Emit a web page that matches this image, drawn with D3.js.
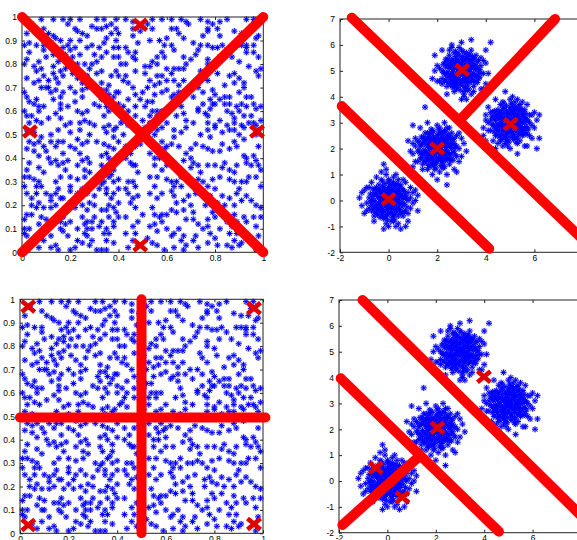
<!DOCTYPE html>
<html><head><meta charset="utf-8">
<script src="https://cdn.jsdelivr.net/npm/d3@7"></script>
<style>
body{margin:0;background:#fff}
svg{display:block}
text{font-family:"Liberation Sans",Arial,Helvetica,sans-serif;font-size:8.5px;fill:#000}
</style>
</head><body>
<script>
// ---- Uniform data (left panels), values in percent of the unit square ----
const uniformPts = "8,99 13,99 17,99 20,99 24,99 31,99 34,99 39,99 43,99 46,98 29,96 31,95 33,95 35,96 39,95 40,93 9,95 22,95 25,93 46,95 2,93 13,92 14,91 16,90 20,90 24,90 27,92 35,91 39,90 46,92 6,88 1,88 9,88 17,87 20,86 22,87 27,87 29,88 32,87 38,87 40,87 43,87 3,85 13,84 18,84 24,84 30,84 35,85 44,85 47,85 2,82 7,81 10,83 16,83 18,82 20,80 23,80 26,80 31,81 38,83 40,83 43,80 47,82 5,79 13,79 18,78 28,78 33,77 6,77 9,75 13,76 14,74 17,75 21,76 31,76 37,75 40,75 43,75 47,77 2,74 5,72 11,73 25,72 36,71 44,72 1,68 8,70 10,70 11,70 12,68 20,70 22,68 25,69 32,67 33,69 36,67 39,68 40,68 46,70 47,67 16,66 6,65 17,68 3,64 5,63 7,62 16,63 22,64 33,65 35,62 37,64 40,63 44,65 47,62 1,60 7,60 16,61 23,60 32,62 36,60 40,60 44,60 27,60 2,58 3,55 8,55 11,57 16,57 20,55 24,55 28,55 30,54 34,53 36,54 41,55 42,56 44,54 47,58 5,51 12,50 20,51 28,50 35,51 42,50 " +
"54,99 58,99 62,99 68,98 74,99 77,98 82,98 85,99 93,99 96,99 54,95 62,95 64,95 69,97 77,95 77,94 81,95 82,92 88,94 91,93 97,91 98,92 53,90 57,90 60,91 67,91 71,89 74,88 77,88 79,87 81,87 83,88 89,88 91,88 93,87 93,88 62,88 63,86 93,85 96,85 56,83 59,83 67,83 70,82 77,82 82,83 87,83 51,79 53,79 56,80 63,78 65,78 67,78 77,80 94,79 97,77 98,75 60,78 58,75 56,75 53,73 57,72 60,73 63,73 75,75 81,76 86,75 90,74 88,72 84,71 65,71 70,70 73,70 52,70 79,69 80,67 55,67 58,68 60,69 62,66 63,67 68,68 71,66 82,65 84,66 86,66 90,68 95,66 96,63 97,61 52,64 54,64 75,63 73,61 79,63 80,63 84,63 86,63 91,63 93,62 54,60 56,60 56,58 58,60 64,58 73,60 77,58 85,60 87,59 90,60 92,58 95,58 53,55 60,55 71,55 77,55 82,56 85,54 88,55 91,54 92,53 94,55 96,55 97,54 98,52 56,52 63,52 77,52 86,52 88,52 55,50 66,51 74,50 83,51 90,50 97,50 " +
"3,47 7,47 9,45 12,47 14,45 17,47 20,45 22,44 27,47 31,47 36,45 38,44 40,47 43,45 47,45 2,44 5,43 10,43 11,40 12,38 14,39 17,38 19,39 23,37 25,39 27,40 33,41 33,37 36,40 40,41 43,40 46,37 47,37 2,35 7,36 28,34 34,35 38,35 1,32 3,32 7,30 16,32 20,32 26,32 31,30 33,29 36,32 38,30 40,31 44,30 47,28 1,28 8,28 20,28 32,27 2,25 6,25 10,25 12,24 14,25 17,23 20,26 23,25 27,25 35,25 38,25 40,27 44,25 46,23 4,20 7,21 9,19 12,19 14,20 16,23 20,21 22,19 25,20 27,18 30,20 33,18 35,18 38,19 40,21 47,19 2,16 4,16 8,15 14,13 16,13 20,13 25,15 27,13 29,13 33,13 36,15 38,13 40,15 43,15 1,10 3,10 9,10 10,10 16,10 17,9 23,10 27,10 29,10 32,11 35,10 36,8 46,11 47,8 9,5 12,2 15,1 20,1 23,5 25,4 28,3 31,1 33,1 35,1 44,2 48,3 1,8 5,4 27,7 29,5 35,5 " +
"53,47 56,45 58,47 60,45 62,46 65,45 70,44 75,45 77,44 79,43 83,46 86,44 89,45 92,41 93,40 53,42 55,40 57,40 60,41 60,37 63,37 67,39 70,40 71,38 73,37 77,37 80,37 83,36 86,35 89,37 93,38 95,37 98,37 53,32 56,32 60,31 62,30 63,28 66,32 69,30 71,30 75,30 77,28 79,31 82,32 86,31 88,30 91,30 94,32 97,32 53,25 58,25 62,26 63,24 69,24 72,25 76,23 79,22 81,21 83,24 86,23 88,20 91,22 93,24 95,22 97,20 55,16 57,15 60,16 62,18 64,17 67,18 70,20 71,17 71,14 73,12 77,14 80,15 83,17 85,13 89,13 92,15 93,13 96,15 53,11 56,9 58,13 60,10 63,8 67,7 66,5 68,3 71,5 75,10 78,8 82,10 86,8 88,5 91,4 56,3 59,1 67,1 73,2 81,3 85,3 90,3 " +
"4,97 19,97 37,97 52,97 66,99 79,97 95,96 11,93 23,94 37,93 49,94 65,93 75,92 94,93 3,89 19,88 34,89 48,89 59,88 73,86 96,88 9,86 21,83 33,83 46,83 58,85 72,84 85,86 98,83 1,80 15,81 29,80 41,80 54,81 68,80 80,79 90,81 8,78 16,77 27,75 39,77 51,76 62,76 74,77 88,76 99,78 7,73 15,72 23,74 33,72 42,73 55,71 67,73 77,73 92,72 14,69 27,70 35,69 50,68 65,68 75,68 92,70 2,66 13,65 25,66 38,66 49,65 65,65 78,65 93,66 9,62 19,62 30,63 42,62 51,62 66,62 78,61 89,62 99,62 4,58 14,59 25,59 34,58 43,58 53,58 67,59 76,59 88,57 6,56 18,54 26,56 39,53 50,56 58,53 68,56 80,54 99,56 2,52 15,52 24,52 38,52 51,53 68,53 80,53 " +
"8,49 23,48 38,49 52,49 63,49 78,49 92,48 5,46 15,47 25,46 34,46 49,46 59,44 72,46 88,47 98,45 7,41 17,42 24,42 35,42 45,42 57,43 68,42 82,43 96,41 3,38 15,37 28,38 38,38 45,38 55,37 70,36 84,38 97,39 9,34 18,35 26,35 37,33 48,34 58,35 74,34 88,34 99,35 5,31 14,30 23,31 34,30 46,30 64,30 73,31 93,30 6,28 15,27 25,27 35,27 43,27 55,28 66,28 80,27 90,27 99,28 4,23 12,22 22,23 30,24 37,23 48,24 56,23 67,22 78,24 89,25 6,19 18,19 28,21 36,20 45,21 54,19 64,21 76,20 84,20 99,19 1,14 10,14 17,15 30,15 39,17 50,16 58,16 68,14 79,17 88,16 99,15 7,12 18,12 26,12 38,11 48,13 55,12 65,10 77,11 87,11 97,11 2,7 12,7 19,7 26,8 34,8 43,8 52,6 62,7 72,7 80,6 89,8 98,7 7,2 14,3 22,2 38,4 46,5 54,4 63,2 77,4 87,2 97,1";

// ---- Cluster data (right panels): centres and point offsets in tenths ----
const clusterCenters = [[0,0],[2,2],[3,5],[5,3]];
const clusterOffsets = [
"0,0 1,1 -1,2 2,-1 -2,-1 3,2 -3,1 1,-3 -1,-2 4,0 -4,-1 2,4 -2,3 0,5 0,-5 5,2 -5,2 3,-4 -3,-4 6,-1 -6,0 1,6 -1,-6 4,4 -4,4 4,-3 -4,-3 7,1 -7,-2 2,7 -2,-7 5,-5 -5,5 6,4 -6,3 3,6 -3,-6 8,0 -8,1 0,8 1,-8 7,-4 -7,-4 5,6 -5,-5 8,3 -8,-3 4,8 -3,8 6,-6 -6,-6 9,1 -9,-1 2,9 -1,-9 10,3 -10,4 -12,1 -2,14 -1,10 5,-11 0,-10 8,-8 -11,-2 3,10 9,-3 -9,5 7,7 -7,7 11,0 1,2 2,1 -2,0 -1,-1 0,3 3,0 -3,-2 2,-2 1,4 -1,4 4,2 -4,1 3,-1 -3,-1 0,-3 2,3 -2,5 5,-1 -5,-2 1,-5 -1,3 3,3 -3,3 6,1 -6,-3 2,-6 -2,-4 4,-6 -4,6 7,2 -7,0 0,7 2,-8 -8,5 8,-5 9,5 -9,-4 6,8 -5,9 4,-9 -6,-8 10,-1 -10,-5 11,4 -11,3 3,-10 -3,11 12,2 -1,12 7,-10 -2,-11 12,-4",
"0,0 -1,1 1,2 2,-1 -2,-2 3,1 -3,0 1,-3 -1,3 4,-1 -4,1 2,4 -2,-4 0,-5 0,5 5,1 -5,-1 3,-4 -3,4 6,0 -6,2 1,6 -1,-6 4,4 -4,-4 4,-4 -4,4 7,-1 -7,1 2,-7 -2,7 5,5 -5,-5 6,-4 -6,4 3,7 -3,-7 8,1 -8,-1 1,8 -1,-8 7,4 -7,-4 5,-6 -5,6 8,-3 -8,3 4,8 -4,-8 6,6 -6,-6 9,0 -9,1 0,9 1,-9 -5,16 4,-14 -10,2 -10,9 9,6 -10,-7 10,-3 -9,-5 3,10 -2,-10 7,-8 -7,8 11,2 -11,-1 2,1 1,-1 -1,-2 -2,1 0,2 3,-2 -3,2 2,3 -2,3 1,-4 -1,4 4,2 -4,-2 5,-2 -5,3 2,-5 -3,-3 3,3 6,2 -6,-2 2,6 -2,-6 5,-4 -4,6 7,2 -7,-2 3,-7 -3,6 8,5 -8,-5 5,8 -6,-8 9,-5 -9,4 10,4 -10,-2 4,-10 -4,10 12,-1 0,-12 -12,3 8,-9",
"0,0 1,-1 -1,1 2,2 -2,-1 3,-1 -3,1 -1,3 1,-3 4,1 -4,-1 2,-4 -2,4 0,5 0,-5 5,-1 -5,1 3,4 -3,-4 6,1 -6,-1 -1,6 1,-6 4,-4 -4,4 4,4 -4,-4 7,0 -7,-1 -2,7 2,-7 5,5 -5,-5 6,-4 -6,4 3,-7 -3,7 8,-1 -8,0 0,8 1,-8 7,4 -7,-4 5,-6 -5,6 8,2 -8,-3 4,8 -3,-8 6,6 -6,-6 9,-1 -9,1 -1,9 1,-9 4,12 12,11 -11,6 1,-10 0,-11 -10,-4 10,-5 -4,10 8,-7 -8,8 10,3 -10,2 2,-2 -2,2 1,1 -1,-1 0,3 3,0 -3,-2 2,-3 -2,-3 3,2 -3,3 1,4 -1,-4 4,-2 -4,2 5,2 -5,-2 2,5 -2,-5 6,-2 -6,2 3,6 -3,-6 7,-3 -7,3 2,7 -2,-7 8,5 -8,-5 5,-8 -5,8 9,4 -9,-4 4,-9 -4,9 11,-1 -11,0 0,11 2,-11 -6,-9 9,-7 10,8 -12,-3",
"0,0 -1,-1 1,1 2,-2 -2,1 3,0 -3,-1 0,3 0,-3 4,1 -4,0 1,4 -1,-4 5,-2 -5,2 2,5 -2,-5 4,-4 -4,4 5,3 -5,-3 6,0 -6,1 0,6 1,-6 4,5 -4,-5 6,-3 -6,3 7,1 -7,-1 1,7 -1,-7 5,-5 -5,5 6,5 -6,-5 8,0 -8,1 2,8 -2,-8 7,-4 -7,4 4,7 -4,-7 8,3 -8,-3 3,-8 -3,8 7,7 -7,-7 9,-1 -9,0 0,9 -1,-9 12,-6 11,-10 -10,3 3,-12 -2,12 -11,-2 -10,-7 10,4 9,-6 -6,9 6,-9 11,1 -9,6 2,2 -2,-2 1,-1 -1,2 3,-2 -3,2 2,3 -2,-3 4,-1 -4,2 1,-4 -1,4 3,3 -3,-3 5,0 -5,-1 0,5 1,-5 5,-3 -5,3 3,-6 -3,6 6,2 -6,-2 2,6 -2,-6 7,-2 -7,2 4,-7 -4,7 8,-5 -8,4 5,8 -5,-8 9,3 -9,-3 3,9 -3,-9 10,-2 -10,1 1,10 0,-10 12,3 -11,-5 7,-9 -6,-10"
];
// dense inner core shared by every cluster (offsets in tenths)
const clusterCore = "0.5,0.5 -0.5,0.5 0.5,-0.5 -0.5,-0.5 1.5,0.5 -1.5,0.5 1.5,-0.5 -1.5,-0.5 0.5,1.5 -0.5,1.5 0.5,-1.5 -0.5,-1.5 2.5,1.5 -2.5,1.5 2.5,-1.5 -2.5,-1.5 1.5,2.5 -1.5,2.5 1.5,-2.5 -1.5,-2.5 3.5,0.5 -3.5,0.5 3.5,-0.5 -3.5,-0.5 0.5,3.5 -0.5,3.5 0.5,-3.5 -0.5,-3.5 2.5,3.5 -2.5,3.5 2.5,-3.5 -2.5,-3.5 3.5,2.5 -3.5,2.5 3.5,-2.5 -3.5,-2.5 4.5,1.5 -4.5,1.5 4.5,-1.5 -4.5,-1.5 1.5,4.5 -1.5,4.5 1.5,-4.5 -1.5,-4.5 5.5,0.5 -5.5,-0.5 0.5,5.5 -0.5,-5.5 4.5,3.5 -4.5,3.5 4.5,-3.5 -4.5,-3.5 3.5,4.5 -3.5,4.5 3.5,-4.5 -3.5,-4.5 5.5,2.5 -5.5,2.5 5.5,-2.5 -5.5,-2.5 2.5,5.5 -2.5,5.5 2.5,-5.5 -2.5,-5.5 6.5,1.5 -6.5,-1.5 1.5,6.5 -1.5,-6.5 6.5,-1.5 -6.5,1.5 -1.5,6.5 1.5,-6.5 5.5,4.5 -5.5,-4.5 4.5,5.5 -4.5,-5.5 5.5,-4.5 -5.5,4.5 7.5,0.5 -7.5,-0.5 0.5,7.5 -0.5,-7.5 6.5,3.5 -6.5,-3.5 3.5,6.5 -3.5,-6.5 7.5,-2.5 -7.5,2.5 2.5,-7.5 -2.5,7.5 6.5,-4.5 -6.5,4.5";

// ---- Ticks ----
const leftXTicks = [0, 0.2, 0.4, 0.6, 0.8, 1];
const leftYTicks = [0, 0.1, 0.2, 0.3, 0.4, 0.5, 0.6, 0.7, 0.8, 0.9, 1];
const rightXTicks = [-2, 0, 2, 4, 6];
const rightYTicks = [-2, -1, 0, 1, 2, 3, 4, 5, 6, 7];

// ---- Red boundary lines and centroid markers ----
const linesTL = [[[0,0],[1,1]], [[0,1],[1,0]]];
const centroidsTL = [[0.49,0.967],[0.033,0.513],[0.974,0.513],[0.49,0.03]];
const linesBL = [[[0.5,0],[0.5,1]], [[0,0.495],[1.01,0.495]]];
const centroidsBL = [[0.034,0.969],[0.963,0.962],[0.034,0.035],[0.963,0.04]];
const linesTR = [[[-1.52,7.05],[8.6,-2.05]], [[2.93,3.1],[6.85,7.0]], [[-1.93,3.64],[4.14,-1.86]]];
const centroidsTR = [[0,0.05],[2,2],[3.03,5.03],[5.02,2.94]];
const linesBR = [[[-1.03,7],[8.5,-1.8]], [[-1.93,3.97],[4.61,-1.96]], [[-1.86,-1.7],[1.31,0.95]]];
const centroidsBR = [[-0.48,0.51],[0.62,-0.63],[2.07,2.06],[3.99,4.03]];

// ---- parse data ----
const uniform = uniformPts.trim().split(/\s+/).map(s => s.split(",").map(v => +v / 100));
const clusters = [];
const coreOffsets = clusterCore.trim().split(/\s+/).map(s => s.split(",").map(Number));
clusterOffsets.forEach((str, i) => {
  const c = clusterCenters[i];
  const offs = str.trim().split(/\s+/).map(s => s.split(",").map(Number)).concat(coreOffsets);
  offs.forEach(([dx, dy]) => clusters.push([c[0] + dx / 10, c[1] + dy / 10]));
});

const W = 577, H = 540;
const svg = d3.select("body").append("svg").attr("width", W).attr("height", H);

const fmt = v => String(+v.toFixed(1));

function panel(cfg) {
  const x = d3.scaleLinear().domain(cfg.xd).range([cfg.l, cfg.r]);
  const y = d3.scaleLinear().domain(cfg.yd).range([cfg.b, cfg.t]);
  const g = svg.append("g");

  // points
  const pg = g.append("g");
  pg.selectAll("circle").data(cfg.pts).join("circle")
    .attr("cx", d => x(d[0])).attr("cy", d => y(d[1])).attr("r", 3.1)
    .attr("fill", "#a4a4ff").attr("opacity", 0.6);
  pg.selectAll("path").data(cfg.pts).join("path")
    .attr("transform", d => `translate(${x(d[0])},${y(d[1])})`)
    .attr("d", "M-3,0H3M0,-3V3M-2.2,-2.2L2.2,2.2M-2.2,2.2L2.2,-2.2")
    .attr("stroke", "#0000ff").attr("stroke-width", 1).attr("fill", "none");

  // axes frame + ticks
  const ax = (axis, tx, ty, labels) => {
    const a = g.append("g").attr("transform", `translate(${tx},${ty})`).call(axis);
    a.select(".domain").remove();
    a.selectAll("line").attr("stroke", "#222");
    if (!labels) a.selectAll("text").remove();
    return a;
  };
  ax(d3.axisBottom(x).tickValues(cfg.xt).tickFormat(fmt).tickSizeInner(-3).tickSizeOuter(0).tickPadding(2.5), 0, cfg.b, true);
  ax(d3.axisTop(x).tickValues(cfg.xt).tickSizeInner(-3).tickSizeOuter(0), 0, cfg.t, false);
  ax(d3.axisLeft(y).tickValues(cfg.yt).tickFormat(fmt).tickSizeInner(-3).tickSizeOuter(0).tickPadding(5), cfg.l, 0, true);
  ax(d3.axisRight(y).tickValues(cfg.yt).tickSizeInner(-3).tickSizeOuter(0), cfg.r, 0, false);
  g.selectAll(".tick text").attr("fill", "#000").attr("font-size", "8.5px")
    .attr("font-family", '"Liberation Sans", Arial, sans-serif');
  g.append("rect").attr("x", cfg.l).attr("y", cfg.t)
    .attr("width", cfg.r - cfg.l).attr("height", cfg.b - cfg.t)
    .attr("fill", "none").attr("stroke", "#222").attr("stroke-width", 1);

  // red lines
  const line = d3.line().x(d => x(d[0])).y(d => y(d[1]));
  g.selectAll("path.sep").data(cfg.lines).join("path").attr("class", "sep")
    .attr("d", line).attr("stroke", "#ff0000").attr("stroke-width", 10)
    .attr("stroke-linecap", "round").attr("fill", "none");

  // centroid markers (bold x)
  g.selectAll("path.cx").data(cfg.cents).join("path").attr("class", "cx")
    .attr("transform", d => `translate(${x(d[0])},${y(d[1])})`)
    .attr("d", "M-6.5,-5.5L6.5,5.5M6.5,-5.5L-6.5,5.5")
    .attr("stroke", "#e00000").attr("stroke-width", 4.6).attr("fill", "none");
}

panel({l: 22, r: 263.3, t: 17, b: 252.3, xd: [0,1], yd: [0,1], xt: leftXTicks, yt: leftYTicks,
       pts: uniform, lines: linesTL, cents: centroidsTL});
panel({l: 340, r: 583, t: 19, b: 252.3, xd: [-2,8], yd: [-2,7], xt: rightXTicks, yt: rightYTicks,
       pts: clusters, lines: linesTR, cents: centroidsTR});
panel({l: 20, r: 263, t: 299.3, b: 533.3, xd: [0,1], yd: [0,1], xt: leftXTicks, yt: leftYTicks,
       pts: uniform, lines: linesBL, cents: centroidsBL});
panel({l: 339, r: 581, t: 300, b: 532.7, xd: [-2,8], yd: [-2,7], xt: rightXTicks, yt: rightYTicks,
       pts: clusters, lines: linesBR, cents: centroidsBR});
</script>
</body></html>
